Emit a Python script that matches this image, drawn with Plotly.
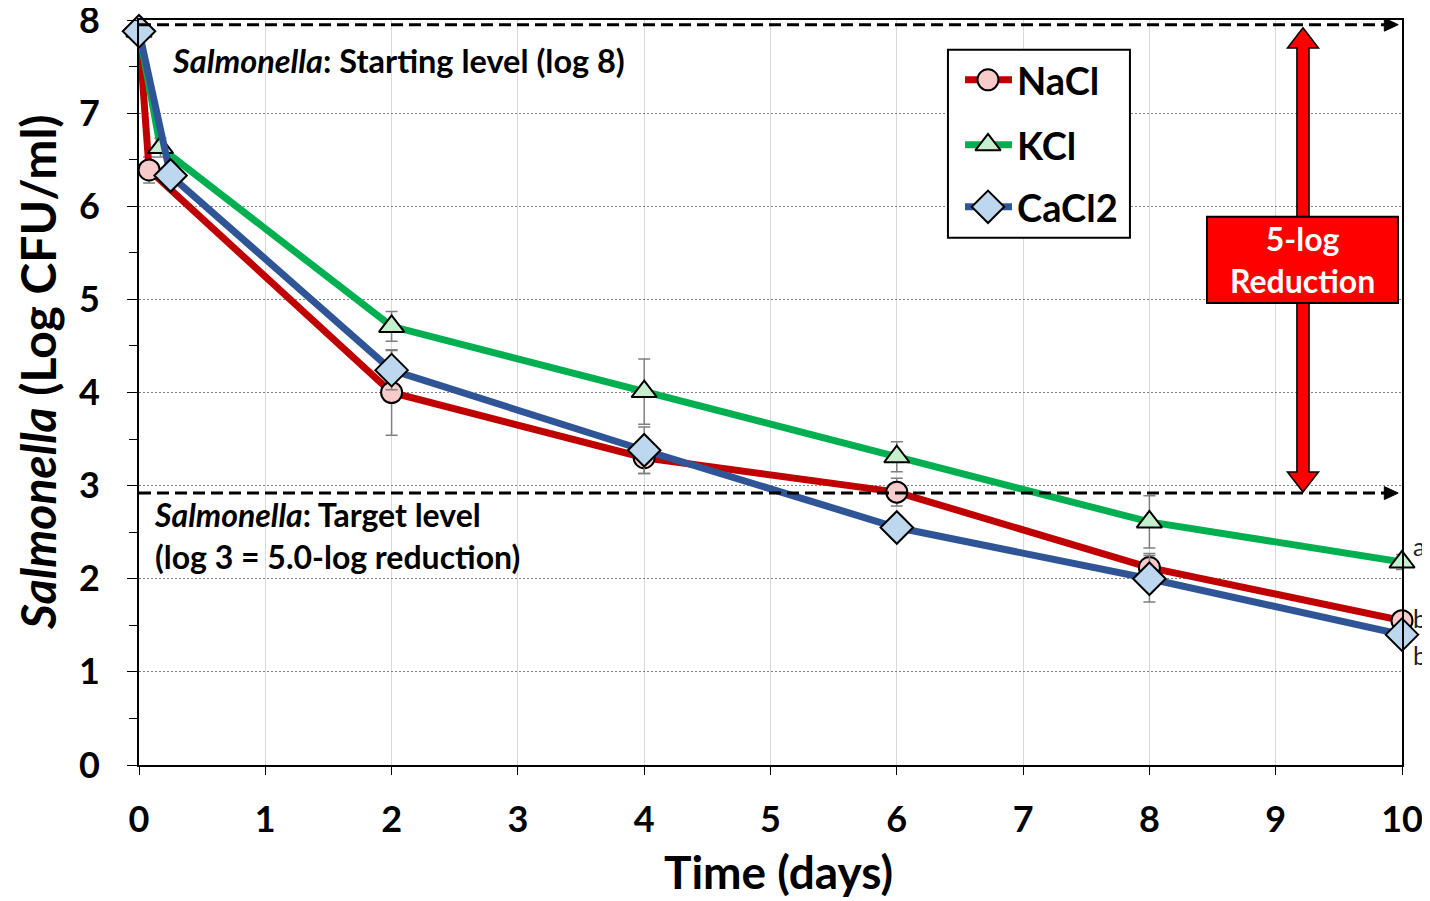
import plotly.graph_objects as go

# ---------------- data ----------------
series_names = ["NaCl", "KCl", "CaCl2"]
nacl_days = [0, 0.08, 2, 4, 6, 8, 10]
nacl_log = [7.88, 6.39, 4.00, 3.30, 2.93, 2.12, 1.55]
nacl_err = [0.05, 0.14, 0.46, 0.17, 0.15, 0.15, 0.08]

kcl_days = [0, 0.17, 2, 4, 6, 8, 10]
kcl_log = [7.88, 6.63, 4.71, 4.01, 3.31, 2.61, 2.18]
kcl_err = [0.05, 0.10, 0.16, 0.35, 0.16, 0.28, 0.08]

cacl2_days = [0, 0.25, 2, 4, 6, 8, 10]
cacl2_log = [7.88, 6.33, 4.24, 3.38, 2.55, 2.00, 1.40]
cacl2_err = [0.05, 0.10, 0.21, 0.25, 0.12, 0.25, 0.08]

sig_letters = ["a", "b", "b"]
sig_y = [2.35, 1.58, 1.18]

x_ticks = list(range(0, 11))
y_ticks = list(range(0, 9))
start_level = 7.95
target_level = 2.92

FONT = "Lato"

line_colors = ["#C00000", "#00B050", "#2F5597"]
marker_fills = ["#F8CBCB", "#C6EFCE", "#BDD7EE"]
symbols = ["circle", "triangle-up", "diamond"]
marker_sizes = [21, 22, 25]

fig = go.Figure()
all_x = [nacl_days, kcl_days, cacl2_days]
all_y = [nacl_log, kcl_log, cacl2_log]
all_e = [nacl_err, kcl_err, cacl2_err]
for i, name in enumerate(series_names):
    fig.add_trace(go.Scatter(
        x=all_x[i], y=all_y[i], name=name, mode="lines+markers",
        showlegend=False,
        line=dict(color=line_colors[i], width=7),
        marker=dict(symbol=symbols[i], size=marker_sizes[i], color=marker_fills[i],
                    line=dict(color="black", width=2)),
        error_y=dict(type="data", array=all_e[i], color="#7F7F7F", thickness=1.5, width=6),
        cliponaxis=False,
    ))

# ---------------- custom legend (layout positions, in axis units) ----------------
leg_box = dict(x0=6.405, x1=7.846, y0=5.661, y1=7.680)
leg_rows = [7.358, 6.660, 5.994]
leg_line_x = [6.540, 6.912]
leg_marker_x = 6.722
leg_text_x = 6.936
for i, name in enumerate(series_names):
    fig.add_trace(go.Scatter(
        x=leg_line_x, y=[leg_rows[i]] * 2, mode="lines", showlegend=False,
        hoverinfo="skip", cliponaxis=False,
        line=dict(color=line_colors[i], width=7),
    ))
for i, name in enumerate(series_names):
    fig.add_trace(go.Scatter(
        x=[leg_marker_x], y=[leg_rows[i]], mode="markers", showlegend=False,
        hoverinfo="skip", cliponaxis=False,
        marker=dict(symbol=symbols[i], size=marker_sizes[i], color=marker_fills[i],
                    line=dict(color="black", width=2)),
    ))
    fig.add_annotation(x=leg_text_x, y=leg_rows[i], xref="x", yref="y", xanchor="left",
                       yanchor="middle", text=f"<b>{name}</b>", showarrow=False,
                       font=dict(family=FONT, size=38, color="black"))

# significance letters
for letter, yy in zip(sig_letters, sig_y):
    fig.add_annotation(x=10, y=yy, xref="x", yref="y", text=letter, showarrow=False,
                       xanchor="left", xshift=9, font=dict(family=FONT, size=25, color="#222"))

shapes = []
shapes.append(dict(type="rect", xref="x", yref="y", **leg_box, fillcolor="white",
                   line=dict(color="black", width=2), layer="between"))
# dashed reference lines with arrowheads
for lvl in [start_level, target_level]:
    shapes.append(dict(type="line", xref="x", yref="y", x0=0, x1=9.9, y0=lvl, y1=lvl,
                       line=dict(color="black", width=3, dash="12px,6px"), layer="above"))
    shapes.append(dict(type="path", xref="x", yref="y",
                       path=f"M 9.86 {lvl+0.07} L 9.97 {lvl} L 9.86 {lvl-0.07} Z",
                       fillcolor="black", line=dict(color="black", width=1), layer="above"))

# red double arrow
xc, sh, hh = 9.216, 0.048, 0.123
top_tip, top_base = 7.916, 7.70
bot_tip, bot_base = 2.932, 3.147
arrow_path = (f"M {xc} {top_tip} L {xc+hh} {top_base} L {xc+sh} {top_base} "
              f"L {xc+sh} {bot_base} L {xc+hh} {bot_base} L {xc} {bot_tip} "
              f"L {xc-hh} {bot_base} L {xc-sh} {bot_base} L {xc-sh} {top_base} "
              f"L {xc-hh} {top_base} Z")
shapes.append(dict(type="path", xref="x", yref="y", path=arrow_path,
                   fillcolor="#FF0000", line=dict(color="black", width=1.5), layer="above"))
shapes.append(dict(type="rect", xref="x", yref="y", x0=8.456, x1=9.968, y0=4.962, y1=5.886,
                   fillcolor="#FF0000", line=dict(color="black", width=2), layer="above"))

fig.add_annotation(x=9.212, y=5.424, xref="x", yref="y", text="<b>5-log<br>Reduction</b>",
                   showarrow=False, font=dict(family=FONT, size=32, color="white"),
                   align="center")

fig.add_annotation(x=0.245, y=7.57, xref="x", yref="y", xanchor="left",
                   text="<b><i>Salmonella</i>: Starting level (log 8)</b>", showarrow=False,
                   font=dict(family=FONT, size=32.5, color="black"))
fig.add_annotation(x=0.10, y=2.46, xref="x", yref="y", xanchor="left", align="left",
                   text="<b><i>Salmonella</i>: Target level<br>(log 3 = 5.0-log reduction)</b>",
                   showarrow=False, font=dict(family=FONT, size=32, color="black"))

# axis titles
fig.add_annotation(xref="paper", yref="paper", x=-0.0808, y=0.5275, textangle=-90,
                   text="<b><i>Salmonella</i> (Log CFU/ml)</b>", showarrow=False,
                   xanchor="center", yanchor="middle", font=dict(family=FONT, size=48, color="black"))
fig.add_annotation(xref="paper", yref="paper", x=0.506, y=-0.143,
                   text="<b>Time (days)</b>", showarrow=False,
                   xanchor="center", yanchor="middle", font=dict(family=FONT, size=46, color="black"))

fig.update_layout(
    width=1422, height=893,
    margin=dict(l=131, r=28, t=12, b=136, autoexpand=False),
    paper_bgcolor="white", plot_bgcolor="white",
    shapes=shapes,
    font=dict(family=FONT, color="black"),
    showlegend=False,
    xaxis=dict(range=[0, 10], tickvals=x_ticks, ticktext=[f"<b>{v}</b>" for v in x_ticks],
               tickfont=dict(family=FONT, size=36), showline=True, linecolor="black",
               linewidth=2, mirror=True, ticks="outside", ticklen=8, tickcolor="black",
               ticklabelstandoff=14, ticklabeloverflow="allow", automargin=False,
               showgrid=True, gridcolor="#D9D9D9", gridwidth=1, zeroline=False),
    yaxis=dict(range=[0, 8], tickvals=y_ticks, ticktext=[f"<b>{v}</b>" for v in y_ticks],
               tickfont=dict(family=FONT, size=36), showline=True, linecolor="black",
               linewidth=2, mirror=True, ticks="outside", ticklen=10, tickcolor="black",
               ticklabelstandoff=20, ticklabeloverflow="allow", automargin=False,
               minor=dict(dtick=0.5, ticks="outside", ticklen=8, tickcolor="black", showgrid=False),
               showgrid=True, gridcolor="#808080", gridwidth=1, griddash="2px,2px", zeroline=False),
)

fig.write_html("out.html")
